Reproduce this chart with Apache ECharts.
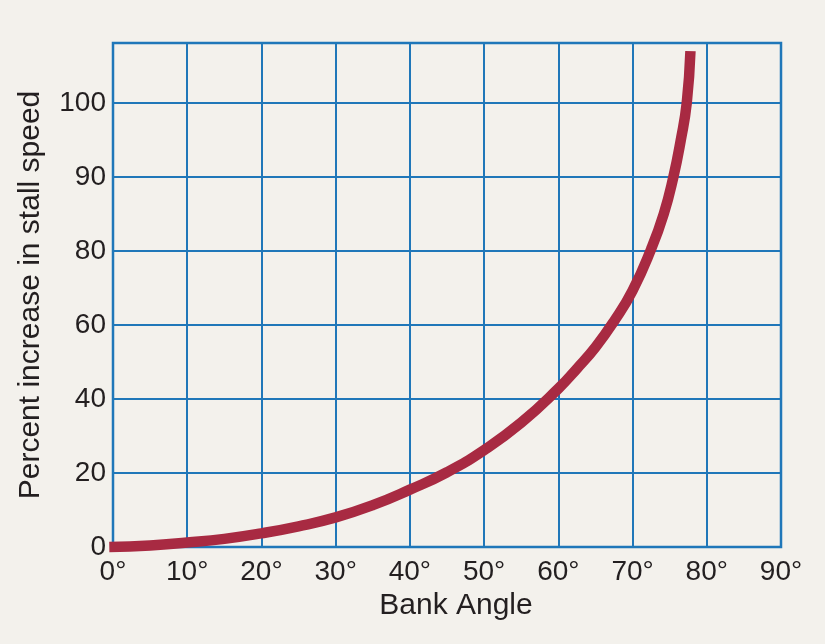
<!DOCTYPE html>
<html>
<head>
<meta charset="utf-8">
<script src="https://cdn.jsdelivr.net/npm/echarts@6/dist/echarts.min.js"></script>
<style>
  html, body { margin: 0; padding: 0; background: #f3f1ec; }
  #chart { width: 825px; height: 644px; }
</style>
</head>
<body>
<div id="chart"></div>
<script>
// Bank angle (degrees) and stall speed increase (plotted position, %)
const bankAngles = [-0.5, 5, 10, 15, 20, 25, 30, 35, 40, 45, 50, 55, 60, 62.5, 65, 67.5, 70, 72.5, 74.2, 75.5, 76.5, 77.3, 77.8];
const stallIncrease = [0, 0.4, 1.2, 2.2, 3.7, 5.6, 8, 11.3, 15.5, 20.2, 26.2, 33.6, 42.8, 48.2, 54, 61, 69.3, 80.5, 90, 100, 110, 120, 134];
// x tick labels
const xTickValues = [0, 10, 20, 30, 40, 50, 60, 70, 80, 90];
const xTickLabels = ['0°', '10°', '20°', '30°', '40°', '50°', '60°', '70°', '80°', '90°'];
// y tick labels (as printed on the original chart)
const yTickValues = [0, 20, 40, 60, 80, 100, 120];
const yTickLabels = ['0', '20', '40', '60', '80', '90', '100'];

const gridBlue = '#1f77b9';
const textColor = '#231f20';
const font = '"Liberation Sans", Arial, Helvetica, sans-serif';

const chart = echarts.init(document.getElementById('chart'), null, { renderer: 'canvas' });
chart.setOption({
  backgroundColor: '#f3f1ec',
  animation: false,
  grid: {
    left: 113, right: 44, top: 43, bottom: 97,
    show: true, borderColor: gridBlue, borderWidth: 2.5, backgroundColor: 'transparent'
  },
  xAxis: {
    type: 'value', min: 0, max: 90, interval: 10,
    name: 'Bank Angle', nameLocation: 'middle', nameGap: 44,
    nameTextStyle: { fontSize: 30, color: textColor, fontFamily: font, padding: [0, 0, 0, 18] },
    axisLine: { show: false }, axisTick: { show: false },
    splitLine: { show: true, lineStyle: { color: gridBlue, width: 2 } },
    axisLabel: {
      fontSize: 28, color: textColor, fontFamily: font, margin: 11,
      formatter: v => { const i = xTickValues.indexOf(v); return i >= 0 ? xTickLabels[i] : ''; }
    }
  },
  yAxis: {
    type: 'value', min: 0, max: 136.2, interval: 20,
    name: 'Percent increase in stall speed', nameLocation: 'middle', nameGap: 67,
    nameTextStyle: { fontSize: 30, color: textColor, fontFamily: font },
    axisLine: { show: false }, axisTick: { show: false },
    splitLine: { show: true, lineStyle: { color: gridBlue, width: 2 } },
    axisLabel: {
      fontSize: 28, color: textColor, fontFamily: font, margin: 7, showMaxLabel: false,
      formatter: v => { const i = yTickValues.indexOf(v); return i >= 0 ? yTickLabels[i] : ''; }
    }
  },
  series: [{
    type: 'line', smooth: 0.5, symbol: 'none', clip: false,
    data: bankAngles.map((a, i) => [a, stallIncrease[i]]),
    lineStyle: { color: '#a82a42', width: 10.5, cap: 'butt', join: 'round' }
  }]
});
</script>
</body>
</html>
